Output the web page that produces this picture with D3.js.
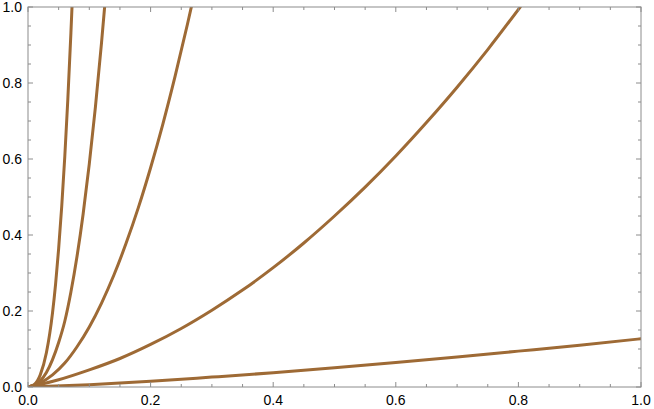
<!DOCTYPE html>
<html>
<head>
<meta charset="utf-8">
<script src="https://cdn.jsdelivr.net/npm/d3@7"></script>
<style>
  body { margin: 0; background: #fff; }
  svg { display: block; }
  .tick-label { font-family: "Liberation Sans", Arial, sans-serif; font-size: 14px; fill: #000; }
</style>
</head>
<body>
<svg width="654" height="409"></svg>
<script>
// values, [x, y]
const curveA = [[0, 0], [0.01, 0.006], [0.02, 0.032], [0.03, 0.09], [0.04, 0.195], [0.045, 0.271], [0.05, 0.364],
  [0.055, 0.475], [0.06, 0.606], [0.065, 0.758], [0.07, 0.932], [0.0718, 1]];
const curveB = [[0, 0], [0.01, 0.005], [0.02, 0.016], [0.03, 0.038], [0.04, 0.072], [0.05, 0.117], [0.06, 0.173],
  [0.07, 0.25], [0.08, 0.344], [0.09, 0.456], [0.1, 0.587], [0.11, 0.737], [0.12, 0.907], [0.125, 1]];
const curveC = [[0, 0], [0.02, 0.011], [0.04, 0.032], [0.06, 0.063], [0.08, 0.106], [0.1, 0.158], [0.12, 0.221],
  [0.14, 0.294], [0.16, 0.378], [0.18, 0.472], [0.2, 0.577], [0.22, 0.692], [0.24, 0.818], [0.26, 0.954], [0.267, 1.004]];
const curveD = [[0, 0], [0.05, 0.019], [0.1, 0.045], [0.15, 0.075], [0.2, 0.112], [0.25, 0.154], [0.3, 0.202],
  [0.35, 0.255], [0.4, 0.314], [0.45, 0.379], [0.5, 0.45], [0.55, 0.526], [0.6, 0.608], [0.65, 0.696],
  [0.7, 0.789], [0.75, 0.888], [0.803, 1]];
const curveE = [[0, 0], [0.1, 0.006], [0.2, 0.015], [0.3, 0.026], [0.4, 0.0375], [0.5, 0.0505], [0.6, 0.0644],
  [0.7, 0.079], [0.8, 0.0944], [0.9, 0.11], [1, 0.127]];
const series = [curveA, curveB, curveC, curveD, curveE];

const majorTicks = [0, 0.2, 0.4, 0.6, 0.8, 1.0];
const minorTicks = d3.range(0, 1.0001, 0.05).filter((t) => Math.round(t * 100) % 20 !== 0);

const svg = d3.select("svg");
const margin = { left: 28, right: 13, top: 7, bottom: 22 };
const width = +svg.attr("width") - margin.left - margin.right;
const height = +svg.attr("height") - margin.top - margin.bottom;

const x = d3.scaleLinear().domain([0, 1]).range([0, width]);
const y = d3.scaleLinear().domain([0, 1]).range([height, 0]);

const g = svg.append("g").attr("transform", `translate(${margin.left},${margin.top})`);

// clip so curves stop at the frame
g.append("clipPath").attr("id", "plot-clip")
  .append("rect").attr("width", width).attr("height", height);

const line = d3.line()
  .x((d) => x(d[0]))
  .y((d) => y(d[1]))
  .curve(d3.curveMonotoneX);

g.append("g")
  .attr("clip-path", "url(#plot-clip)")
  .selectAll("path")
  .data(series)
  .enter()
  .append("path")
  .attr("d", line)
  .attr("fill", "none")
  .attr("stroke", "#9e6a35")
  .attr("stroke-width", 3)
  .attr("stroke-linejoin", "round")
  .attr("stroke-linecap", "round");

// frame
const frameColor = "#8c8c8c";
g.append("rect")
  .attr("width", width)
  .attr("height", height)
  .attr("fill", "none")
  .attr("stroke", frameColor)
  .attr("stroke-width", 1);

// inward ticks on all four sides
const major = 5, minor = 3;
const ticks = g.append("g").attr("stroke", frameColor).attr("stroke-width", 1);
const addTicks = (vals, len) => {
  vals.forEach((t) => {
    ticks.append("line").attr("x1", x(t)).attr("x2", x(t)).attr("y1", height).attr("y2", height - len);
    ticks.append("line").attr("x1", x(t)).attr("x2", x(t)).attr("y1", 0).attr("y2", len);
    ticks.append("line").attr("y1", y(t)).attr("y2", y(t)).attr("x1", 0).attr("x2", len);
    ticks.append("line").attr("y1", y(t)).attr("y2", y(t)).attr("x1", width).attr("x2", width - len);
  });
};
addTicks(majorTicks, major);
addTicks(minorTicks, minor);

// tick labels
g.selectAll(".xl")
  .data(majorTicks)
  .enter()
  .append("text")
  .attr("class", "tick-label")
  .attr("x", (d) => x(d))
  .attr("y", height + 18)
  .attr("text-anchor", "middle")
  .text((d) => d3.format(".1f")(d));

g.selectAll(".yl")
  .data(majorTicks)
  .enter()
  .append("text")
  .attr("class", "tick-label")
  .attr("x", -6)
  .attr("y", (d) => y(d))
  .attr("dy", "0.36em")
  .attr("text-anchor", "end")
  .text((d) => d3.format(".1f")(d));
</script>
</body>
</html>
